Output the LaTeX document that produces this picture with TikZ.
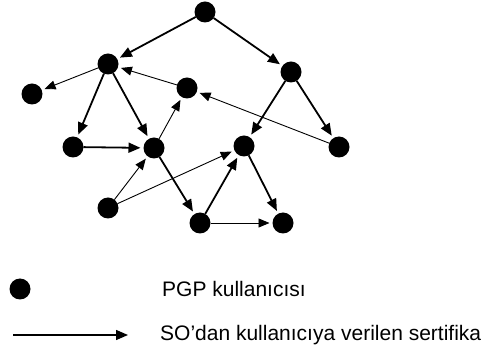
\documentclass[tikz,border=0pt]{standalone}
\usepackage{fontspec}
\setmainfont{Liberation Sans}
\usetikzlibrary{arrows.meta}
\begin{document}
\begin{tikzpicture}[x=1pt,y=-1pt,
  user/.style={circle,fill=black,minimum size=21pt,inner sep=0pt,outer sep=0pt},
  thickarr/.style={line width=1.8pt,-{Triangle[length=12pt,width=10pt]},shorten >=3pt},
  thinarr/.style={line width=0.9pt,-{Triangle[length=11pt,width=9pt]},shorten >=3pt},
  lbl/.style={anchor=west,inner sep=0pt,font=\fontsize{21}{25}\selectfont}]
\useasboundingbox (0,0) rectangle (487,352);
\node[user] (A) at (205,12) {};
\node[user] (B) at (108,64) {};
\node[user] (C) at (291,72) {};
\node[user] (D) at (32,94) {};
\node[user] (E) at (187,88) {};
\node[user] (F) at (73,147) {};
\node[user] (G) at (154,148) {};
\node[user] (H) at (244,146) {};
\node[user] (I) at (339,147) {};
\node[user] (J) at (108,208) {};
\node[user] (K) at (200,223) {};
\node[user] (L) at (283,223) {};
\draw[thickarr] (A) -- (B);
\draw[thickarr] (A) -- (C);
\draw[thinarr] (B) -- (D);
\draw[thinarr] (E) -- (B);
\draw[thickarr] (B) -- (F);
\draw[thickarr] (B) -- (G);
\draw[thickarr] (F) -- (G);
\draw[thinarr] (G) -- (E);
\draw[thinarr] (I) -- (E);
\draw[thickarr] (C) -- (H);
\draw[thickarr] (C) -- (I);
\draw[thinarr] (J) -- (G);
\draw[thinarr] (J) -- (H);
\draw[thickarr] (G) -- (K);
\draw[thickarr] (K) -- (H);
\draw[thickarr] (H) -- (L);
\draw[thinarr] (K) -- (L);
% legend
\node[user] (lu) at (20,289) {};
\node[lbl] (lt1) at (162,289) {PGP kullanıcısı};
\coordinate (la) at (13,335);
\coordinate (lb) at (128,335);
\draw[line width=1.4pt,-{Triangle[length=12pt,width=10pt]}] (la) -- (lb);
\node[lbl] (lt2) at (160,335) {SO’dan kullanıcıya verilen sertifika};
\end{tikzpicture}
\end{document}
